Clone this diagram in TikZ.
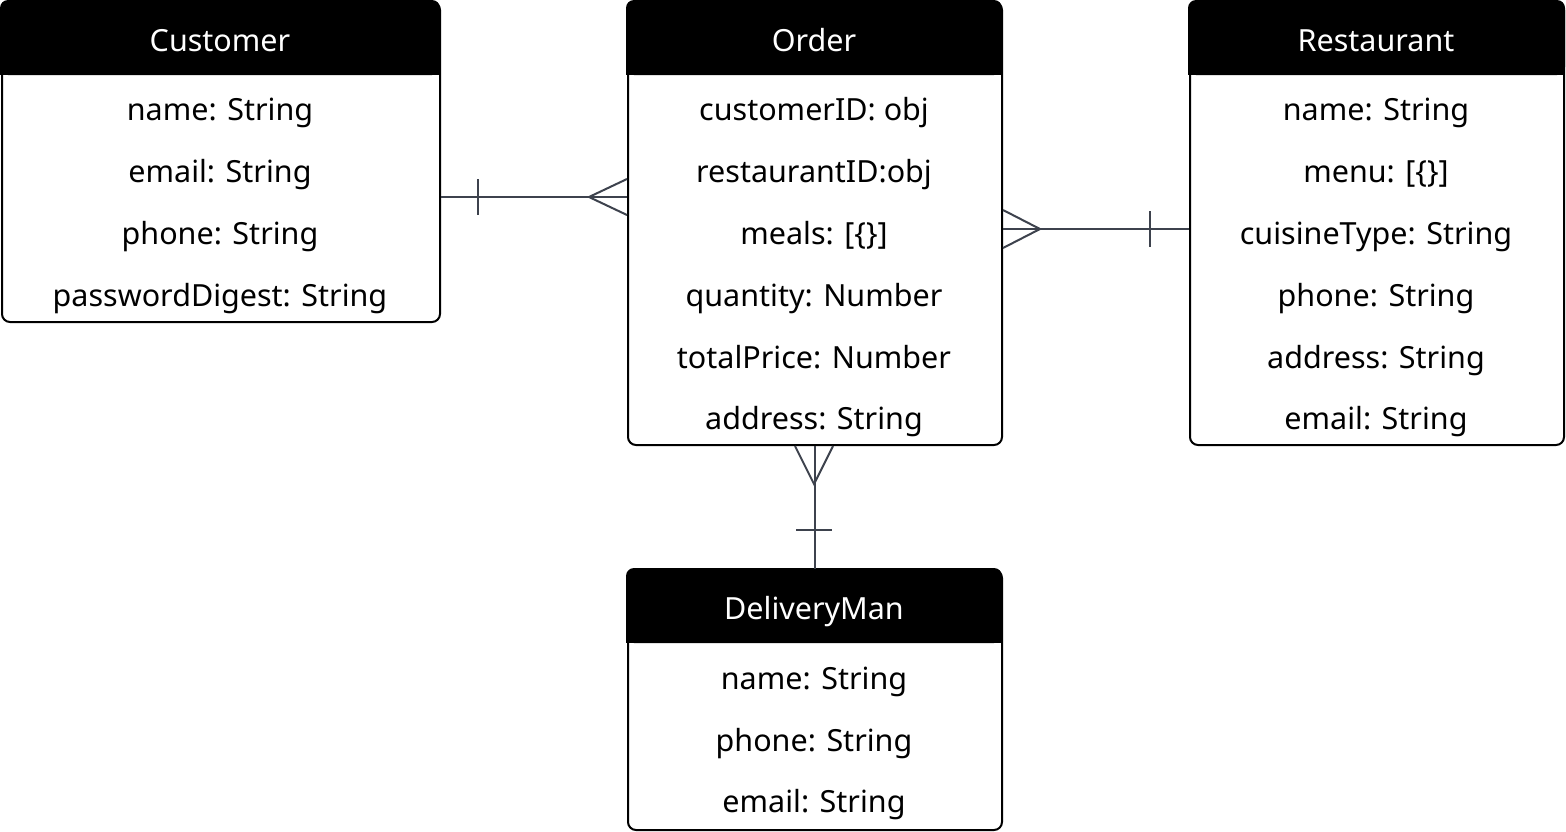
\documentclass[tikz,border=0pt]{standalone}
\usepackage{fontspec}
\setmainfont{Noto Sans}
\definecolor{relc}{RGB}{61,66,77}
\begin{document}
\begin{tikzpicture}[x=1pt,y=-1pt,
  entity/.style={draw=black, line width=2pt, rounded corners=8pt, anchor=north west, inner sep=0pt, fill=white},
  hdrtxt/.style={text=white, font=\fontsize{30.5}{36}\selectfont, inner sep=0pt, anchor=base},
  row/.style={text=black, font=\fontsize{30.5}{36}\selectfont, inner sep=0pt, anchor=base},
  rel/.style={draw=relc, line width=2pt}]
\useasboundingbox (0,0) rectangle (1566,831);
% Customer
\node[entity, minimum width=438pt, minimum height=320pt] (cust) at (1,1) {};
\fill[black, rounded corners=8pt] (0,0) rectangle (440,75);
\fill[black] (0,40) rectangle (440,75);
\node[hdrtxt] (custh) at (220,51) {Customer};
\node[row] (c1) at (220,120) {name: String};
\node[row] (c2) at (220,182) {email: String};
\node[row] (c3) at (220,244) {phone: String};
\node[row] (c4) at (220,306) {passwordDigest: String};
% Order
\node[entity, minimum width=374pt, minimum height=443pt] (order) at (627,1) {};
\fill[black, rounded corners=8pt] (626,0) rectangle (1002,75);
\fill[black] (626,40) rectangle (1002,75);
\node[hdrtxt] (orderh) at (814,51) {Order};
\node[row] (o1) at (814,120) {customerID: obj};
\node[row] (o2) at (814,182) {restaurantID:obj};
\node[row] (o3) at (814,244) {meals: [\{\}]};
\node[row] (o4) at (814,306) {quantity: Number};
\node[row] (o5) at (814,368) {totalPrice: Number};
\node[row] (o6) at (814,429) {address: String};
% Restaurant
\node[entity, minimum width=374pt, minimum height=443pt] (rest) at (1189,1) {};
\fill[black, rounded corners=8pt] (1188,0) rectangle (1565,75);
\fill[black] (1188,40) rectangle (1565,75);
\node[hdrtxt] (resth) at (1376,51) {Restaurant};
\node[row] (r1) at (1376,120) {name: String};
\node[row] (r2) at (1376,182) {menu: [\{\}]};
\node[row] (r3) at (1376,244) {cuisineType: String};
\node[row] (r4) at (1376,306) {phone: String};
\node[row] (r5) at (1376,368) {address: String};
\node[row] (r6) at (1376,429) {email: String};
% DeliveryMan
\node[entity, minimum width=374pt, minimum height=260pt] (dman) at (627,569) {};
\fill[black, rounded corners=8pt] (626,568) rectangle (1002,643);
\fill[black] (626,608) rectangle (1002,643);
\node[hdrtxt] (dmanh) at (814,619) {DeliveryMan};
\node[row] (d1) at (814,689) {name: String};
\node[row] (d2) at (814,751) {phone: String};
\node[row] (d3) at (814,812) {email: String};
% Customer -- Order
\draw[rel] (cust.east |- 0,197) -- (order.west |- 0,197);
\draw[rel] (478,179) -- (478,215);
\draw[rel] (order.west |- 0,179) -- (589,197) -- (order.west |- 0,215);
% Order -- Restaurant
\draw[rel] (order.east |- 0,229) -- (rest.west |- 0,229);
\draw[rel] (1150,211) -- (1150,247);
\draw[rel] (order.east |- 0,210) -- (1040,229) -- (order.east |- 0,248);
% Order -- DeliveryMan
\draw[rel] (order.south) -- (dman.north);
\draw[rel] (796,530) -- (832,530);
\draw[rel] (order.south -| 795,0) -- (814,484) -- (order.south -| 833,0);
\end{tikzpicture}
\end{document}
